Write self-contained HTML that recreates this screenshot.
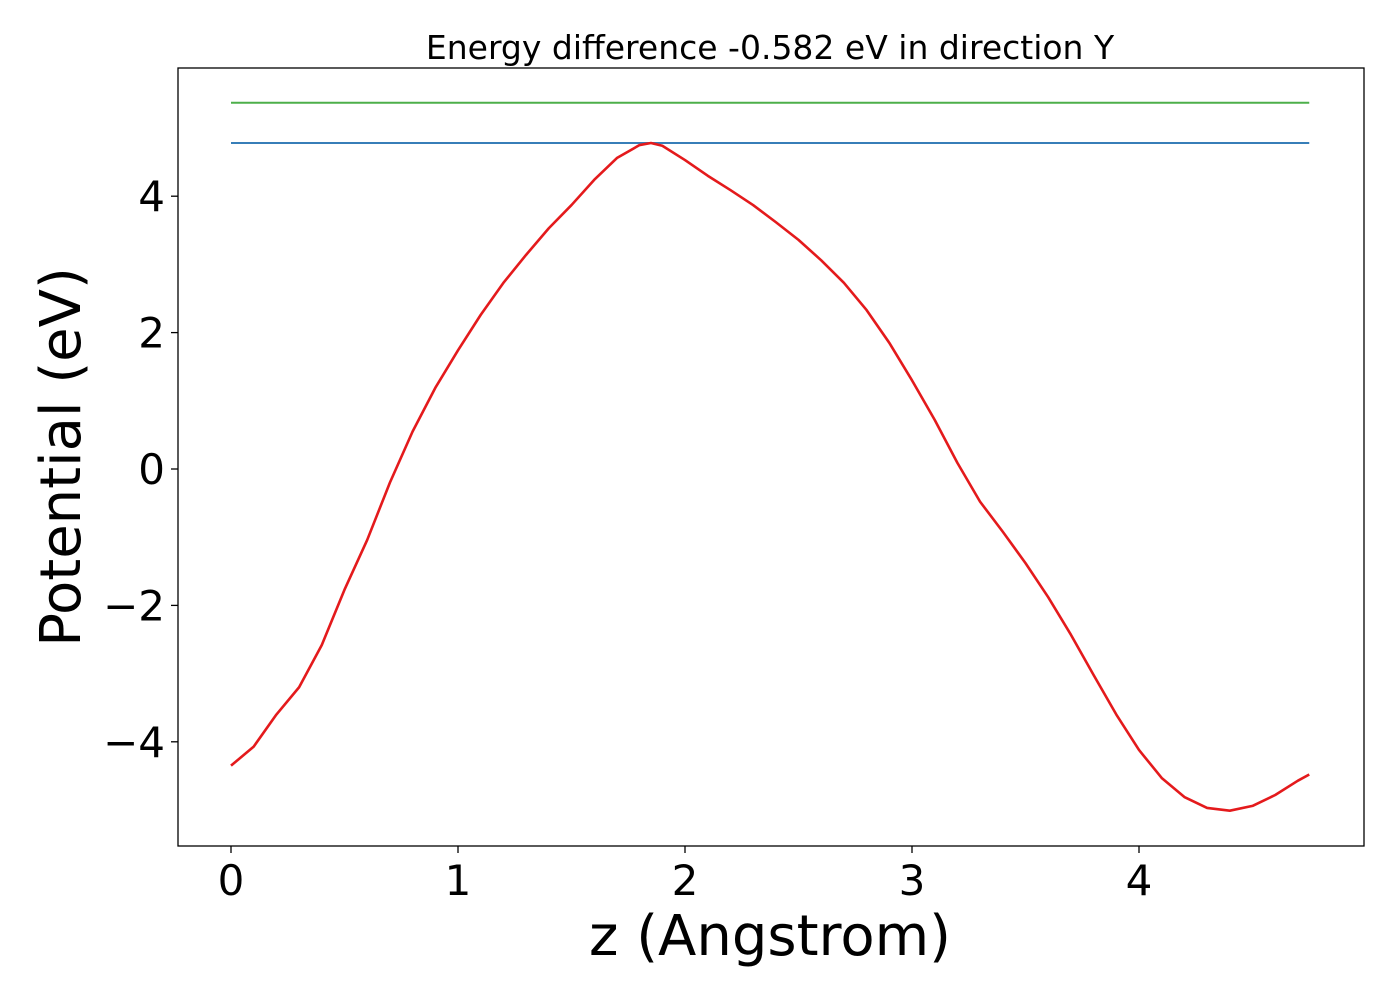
<!DOCTYPE html>
<html><head><meta charset="utf-8"><style>
body{margin:0;background:#fff}
svg text{font-family:"DejaVu Sans","Liberation Sans",sans-serif;fill:#000}
</style></head><body>
<svg width="1400" height="1000" xmlns="http://www.w3.org/2000/svg">
<rect width="1400" height="1000" fill="#fff"/>
<text x="770" y="59" font-size="33" text-anchor="middle">Energy difference -0.582 eV in direction Y</text>
<g id="plot"></g>
<rect x="178" y="68" width="1186" height="778" fill="none" stroke="#000" stroke-width="1.3"/>
<text x="770" y="955" font-size="56" text-anchor="middle">z (Angstrom)</text>
<text transform="translate(80,457) rotate(-90)" font-size="56" text-anchor="middle">Potential (eV)</text>
</svg>
<script>
const xs=[0,0.1,0.2,0.3,0.4,0.5,0.6,0.7,0.8,0.9,1.0,1.1,1.2,1.3,1.4,1.5,1.6,1.7,1.8,1.85,1.9,2.0,2.1,2.2,2.3,2.4,2.5,2.6,2.7,2.8,2.9,3.0,3.1,3.2,3.3,3.4,3.5,3.6,3.7,3.8,3.9,4.0,4.1,4.2,4.3,4.4,4.5,4.6,4.7,4.75];
const potential=[-4.35,-4.07,-3.6,-3.2,-2.58,-1.77,-1.04,-0.2,0.55,1.19,1.74,2.26,2.73,3.14,3.53,3.87,4.24,4.56,4.75,4.78,4.74,4.53,4.3,4.09,3.87,3.62,3.36,3.06,2.73,2.33,1.85,1.3,0.72,0.09,-0.48,-0.92,-1.38,-1.88,-2.43,-3.02,-3.6,-4.12,-4.53,-4.81,-4.97,-5.01,-4.94,-4.78,-4.57,-4.48];
const hlineGreen=5.37, hlineBlue=4.78;
const xTicks=[0,1,2,3,4], yTicks=[-4,-2,0,2,4];
const X=v=>231+v*227, Y=v=>469-v*68.2;
const g=document.getElementById('plot'), NS='http://www.w3.org/2000/svg';
function mk(t,a){const e=document.createElementNS(NS,t);for(const k in a)e.setAttribute(k,a[k]);g.appendChild(e);return e;}
const x0=X(xs[0]),x1=X(xs[xs.length-1]);
let l=mk('line',{x1:x0,x2:x1,y1:Y(hlineGreen),y2:Y(hlineGreen),stroke:'#4daf4a','stroke-width':2});


l=mk('line',{x1:x0,x2:x1,y1:Y(hlineBlue),y2:Y(hlineBlue),stroke:'#377eb8','stroke-width':2});


const p=mk('polyline',{points:xs.map((x,i)=>X(x)+','+Y(potential[i])).join(' '),fill:'none',stroke:'#e41a1c','stroke-width':2.6,'stroke-linejoin':'round'});


xTicks.forEach(v=>{
 const t=mk('line',{x1:X(v),x2:X(v),y1:846,y2:853,stroke:'#000','stroke-width':1.3});
 
 
 const s=mk('text',{x:X(v),y:895,'font-size':42,'text-anchor':'middle'});s.textContent=v;
 
 
});
yTicks.forEach(v=>{
 const t=mk('line',{x1:171,x2:178,y1:Y(v),y2:Y(v),stroke:'#000','stroke-width':1.3});
 
 
 const s=mk('text',{x:165,y:Y(v)+15,'font-size':42,'text-anchor':'end'});s.textContent=v<0?'\u2212'+(-v):v;
 
 
});
</script>
</body></html>
